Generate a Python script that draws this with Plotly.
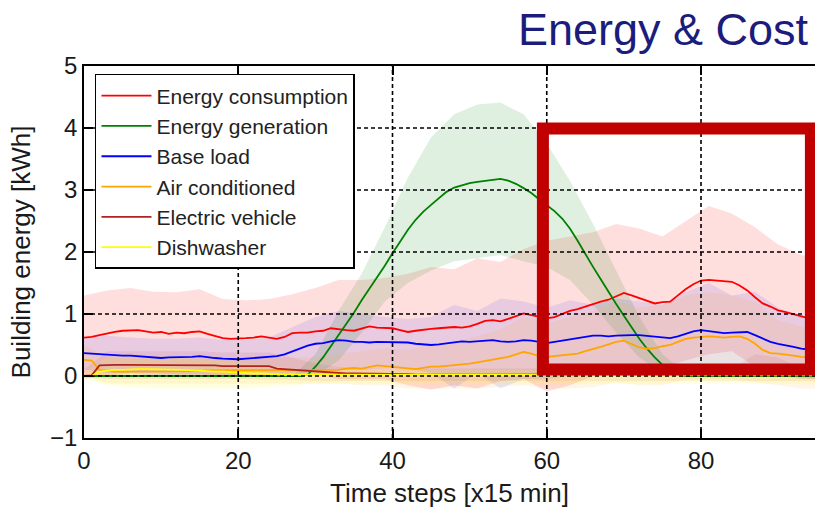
import plotly.graph_objects as go

# ---------------- data ----------------
steps = list(range(96))

consumption = [
    .62, .63, .66, .69, .71, .73, .74, .74, .72, .70,
    .71, .68, .70, .69, .71, .72, .68, .64, .61, .60,
    .60, .61, .62, .64, .62, .60, .63, .69, .70, .70,
    .72, .73, .77, .75, .74, .73, .76, .80, .78, .77,
    .77, .74, .71, .73, .75, .76, .77, .78, .79, .78,
    .80, .84, .89, .90, .88, .92, .97, 1.01, .98, .96,
    .93, .95, 1.00, 1.05, 1.08, 1.12, 1.17, 1.20, 1.23, 1.28,
    1.34, 1.30, 1.26, 1.21, 1.17, 1.19, 1.20, 1.30, 1.40, 1.48,
    1.54, 1.55, 1.54, 1.53, 1.52, 1.46, 1.38, 1.27, 1.17, 1.12,
    1.06, 1.03, 1.00, .96, .93, .92]

generation = [
    0, 0, 0, 0, 0, 0, 0, 0, 0, 0,
    0, 0, 0, 0, 0, 0, 0, 0, 0, 0,
    0, 0, 0, 0, 0, 0, 0, 0, 0, .02,
    .15, .30, .48, .65, .82, 1.02, 1.22, 1.40, 1.58, 1.78,
    1.98, 2.18, 2.36, 2.52, 2.65, 2.76, 2.87, 2.97, 3.04, 3.08,
    3.11, 3.13, 3.15, 3.17, 3.18, 3.15, 3.10, 3.03, 2.95, 2.85,
    2.76, 2.66, 2.54, 2.38, 2.18, 1.96, 1.76, 1.56, 1.35, 1.16,
    .97, .78, .60, .44, .30, .18, .08, .02, 0, 0,
    0, 0, 0, 0, 0, 0, 0, 0, 0, 0,
    0, 0, 0, 0, 0, 0]

base_load = [
    .37, .36, .35, .34, .34, .33, .33, .32, .31, .30,
    .29, .30, .30, .31, .31, .32, .30, .29, .28, .27,
    .27, .28, .29, .30, .31, .32, .35, .40, .45, .49,
    .52, .53, .56, .58, .57, .55, .55, .54, .55, .55,
    .54, .55, .54, .52, .51, .50, .51, .53, .55, .56,
    .55, .56, .57, .58, .56, .55, .56, .58, .57, .55,
    .53, .55, .57, .59, .60, .62, .65, .65, .64, .65,
    .66, .66, .66, .65, .63, .62, .61, .64, .68, .72,
    .74, .72, .70, .69, .70, .70, .71, .66, .60, .55,
    .52, .50, .47, .44, .42, .41]

air_conditioned = [
    .26, .25, .10, .08, .07, .07, .07, .07, .07, .07,
    .08, .08, .08, .08, .08, .08, .09, .09, .09, .09,
    .10, .10, .10, .10, .10, .10, .09, .09, .09, .10,
    .10, .10, .09, .10, .12, .13, .12, .15, .17, .16,
    .15, .14, .12, .11, .13, .15, .15, .16, .17, .18,
    .20, .22, .24, .26, .28, .31, .35, .39, .36, .32,
    .31, .32, .34, .35, .36, .40, .43, .47, .51, .55,
    .57, .52, .46, .44, .45, .48, .50, .55, .60, .62,
    .63, .64, .63, .62, .63, .64, .60, .52, .42, .37,
    .36, .35, .33, .31, .30, .29]

electric_vehicle = [
    .00, .01, .17, .18, .18, .18, .18, .17, .17, .17,
    .18, .18, .17, .17, .17, .18, .17, .17, .16, .16,
    .16, .17, .17, .17, .16, .12, .11, .10, .09, .08,
    .07, .06, .05, .05, .04, .04, .04, .03, .03, .03,
    .03, .03, .03, .02, .02, .02, .02, .02, .02, .02,
    .02, .02, .02, .02, .02, .02, .02, .02, .02, .02,
    .02, .02, .02, .02, .02, .02, .02, .02, .02, .02,
    .02, .02, .02, .02, .02, .02, .02, .02, .02, .02,
    .02, .02, .02, .02, .02, .03, .05, .09, .13, .14,
    .12, .07, .04, .03, .02, .02]

dishwasher = [
    .00, .00, .07, .09, .10, .10, .11, .11, .11, .11,
    .11, .10, .10, .10, .09, .08, .08, .07, .07, .06,
    .05, .05, .04, .04, .03, .03, .02, .02, .02, .01,
    .01, .01, .01, .01, .01, .01, .01, .01, .01, .01,
    .01, .01, .01, .01, .01, .01, .01, .01, .01, .01,
    .01, .01, .01, .01, .01, .01, .01, .01, .01, .01,
    .01, .01, .01, .01, .01, .01, .01, .01, .01, .01,
    .01, .01, .01, .01, .01, .01, .01, .01, .01, .01,
    .01, .01, .01, .01, .01, .01, .01, .01, .01, .01,
    .01, .01, .01, .01, .01, .01]

# spread bands, read every third time step
band_steps = [0, 3, 6, 9, 12, 15, 18, 21, 24, 27, 30, 33, 36, 39, 42, 45, 48,
              51, 54, 57, 60, 63, 66, 69, 72, 75, 78, 81, 84, 87, 90, 93, 95]

consumption_hi = [1.30, 1.38, 1.42, 1.36, 1.35, 1.40, 1.24, 1.22, 1.24, 1.32, 1.42,
                  1.55, 1.55, 1.58, 1.65, 1.76, 1.72, 1.90, 1.84, 2.05, 2.18, 2.25,
                  2.32, 2.45, 2.38, 2.25, 2.50, 2.74, 2.62, 2.40, 2.12, 1.95, 1.90]
consumption_lo = [-0.05, 0.0, 0.05, 0.05, 0.03, 0.03, 0.0, 0.0, 0.0, 0.05, 0.02,
                  -0.05, -0.05, -0.05, -0.15, -0.22, -0.15, -0.20, -0.08, -0.05, -0.25,
                  -0.15, 0.0, 0.10, 0.14, 0.13, 0.25, 0.35, 0.40, 0.15, 0.02, -0.03, -0.05]

generation_hi = [0, 0, 0, 0, 0, 0, 0, 0, 0, 0, 0.35,
                 1.05, 1.65, 2.40, 3.20, 3.85, 4.22, 4.38, 4.41, 4.22, 3.75,
                 3.15, 2.45, 1.70, 0.95, 0.35, 0.05, 0, 0, 0, 0, 0, 0]
generation_lo = [0, 0, 0, 0, 0, 0, 0, 0, 0, 0, 0.0,
                 0.25, 0.70, 1.20, 1.50, 1.70, 1.85, 1.90, 1.95, 1.85, 1.76,
                 1.55, 1.15, 0.70, 0.30, 0.05, 0, 0, 0, 0, 0, 0, 0]

base_load_hi = [0.62, 0.65, 0.62, 0.60, 0.60, 0.62, 0.58, 0.58, 0.62, 0.78, 0.95,
                1.05, 1.00, 0.95, 0.92, 0.95, 1.15, 1.05, 1.25, 1.20, 1.10,
                1.22, 1.15, 1.25, 1.20, 1.15, 1.35, 1.50, 1.30, 1.36, 1.10, 0.95, 0.90]
base_load_lo = [0.10, 0.05, 0.05, 0.0, 0.0, 0.0, 0.0, 0.0, 0.0, 0.0, 0.10,
                0.10, 0.10, 0.12, 0.12, 0.05, -0.20, 0.05, -0.20, -0.05, -0.05,
                0.0, 0.15, 0.05, 0.12, 0.10, 0.0, -0.02, 0.10, 0.05, 0.0, -0.05, -0.05]

air_conditioned_hi = [0.50, 0.30, 0.28, 0.28, 0.28, 0.28, 0.30, 0.30, 0.30, 0.30, 0.30,
                      0.35, 0.40, 0.45, 0.42, 0.50, 0.55, 0.65, 0.75, 0.95, 0.85,
                      0.95, 1.05, 1.20, 1.10, 1.15, 1.30, 1.35, 1.30, 1.20, 0.90, 0.80, 0.75]
air_conditioned_lo = [0.0, -0.12, -0.12, -0.12, -0.12, -0.12, -0.12, -0.12, -0.12, -0.12, -0.12,
                      -0.12, -0.15, -0.15, -0.20, -0.20, -0.20, -0.20, -0.18, -0.15, -0.20,
                      -0.20, -0.18, -0.10, -0.15, -0.15, -0.05, -0.05, -0.05, -0.10, -0.15, -0.20, -0.20]

electric_vehicle_hi = [0.10, 0.40, 0.40, 0.40, 0.40, 0.40, 0.38, 0.38, 0.38, 0.30, 0.20,
                       0.15, 0.12, 0.12, 0.12, 0.12, 0.12, 0.12, 0.12, 0.12, 0.12,
                       0.12, 0.12, 0.12, 0.12, 0.12, 0.12, 0.12, 0.12, 0.35, 0.30, 0.12, 0.10]
electric_vehicle_lo = [-0.02, -0.05, -0.05, -0.05, -0.05, -0.05, -0.05, -0.05, -0.05, -0.06, -0.08,
                       -0.08, -0.08, -0.08, -0.08, -0.08, -0.08, -0.08, -0.08, -0.08, -0.08,
                       -0.08, -0.08, -0.08, -0.08, -0.08, -0.08, -0.08, -0.08, -0.08, -0.08, -0.08, -0.08]

dishwasher_hi = [0.05, 0.30, 0.32, 0.32, 0.32, 0.28, 0.25, 0.20, 0.18, 0.12, 0.10,
                 0.10, 0.10, 0.10, 0.10, 0.10, 0.10, 0.10, 0.10, 0.10, 0.10,
                 0.10, 0.10, 0.10, 0.10, 0.10, 0.10, 0.10, 0.10, 0.10, 0.10, 0.10, 0.10]
dishwasher_lo = [-0.05, -0.15, -0.18, -0.20, -0.20, -0.20, -0.20, -0.20, -0.18, -0.15, -0.12,
                 -0.12, -0.12, -0.12, -0.12, -0.12, -0.12, -0.12, -0.12, -0.12, -0.12,
                 -0.12, -0.12, -0.12, -0.12, -0.12, -0.12, -0.12, -0.12, -0.12, -0.12, -0.12, -0.12]

x_ticks = [0, 20, 40, 60, 80]
y_ticks = [-1, 0, 1, 2, 3, 4, 5]
grid_x = [20, 40, 60, 80]
grid_y = [0, 1, 2, 3, 4]

# highlight box (slide overlay) in data units
highlight = dict(x0=59.5, x1=94.25, y0=0.105, y1=3.99)

# ---------------- figure ----------------
series = [
    ("Energy consumption", consumption, consumption_hi, consumption_lo, "#ff0000", "rgba(255,0,0,0.13)"),
    ("Energy generation", generation, generation_hi, generation_lo, "#008000", "rgba(0,128,0,0.12)"),
    ("Base load", base_load, base_load_hi, base_load_lo, "#0000ff", "rgba(0,0,255,0.09)"),
    ("Air conditioned", air_conditioned, air_conditioned_hi, air_conditioned_lo, "#ffa500", "rgba(255,165,0,0.10)"),
    ("Electric vehicle", electric_vehicle, electric_vehicle_hi, electric_vehicle_lo, "#b22222", "rgba(165,42,42,0.08)"),
    ("Dishwasher", dishwasher, dishwasher_hi, dishwasher_lo, "#ffff00", "rgba(255,255,0,0.12)"),
]

fig = go.Figure()

for name, mean, hi, lo, col, fcol in series:
    fig.add_trace(go.Scatter(
        x=band_steps + band_steps[::-1],
        y=hi + lo[::-1],
        fill="toself", fillcolor=fcol,
        line=dict(width=0), mode="lines",
        hoverinfo="skip", showlegend=False))

for name, mean, hi, lo, col, fcol in series:
    fig.add_trace(go.Scatter(
        x=steps, y=mean, name=name, mode="lines",
        line=dict(color=col, width=1.8)))

shapes = []
for gx in grid_x:
    shapes.append(dict(type="line", xref="x", yref="paper", x0=gx, x1=gx, y0=0, y1=1,
                       layer="above", line=dict(color="black", width=1.6, dash="4px,3px")))
for gy in grid_y:
    shapes.append(dict(type="line", xref="paper", yref="y", x0=0, x1=1, y0=gy, y1=gy,
                       layer="above", line=dict(color="black", width=1.6, dash="4px,3px")))
shapes.append(dict(type="rect", xref="x", yref="y", layer="above",
                   fillcolor="rgba(0,0,0,0)",
                   line=dict(color="#c00000", width=12), **highlight))

FONT = "Liberation Sans, Arial, Helvetica, sans-serif"

fig.update_layout(
    width=815, height=508,
    margin=dict(l=84, r=0, t=66, b=70, autoexpand=False),
    paper_bgcolor="white", plot_bgcolor="white",
    font=dict(family=FONT, color="#1a1a1a"),
    shapes=shapes,
    showlegend=True,
    legend=dict(
        x=0.015, y=0.9785, xanchor="left", yanchor="top",
        bgcolor="white", bordercolor="black", borderwidth=1.5,
        font=dict(size=21, family=FONT, color="#222222"),
        itemwidth=50, tracegroupgap=0,
    ),
    annotations=[dict(
        text="Energy & Cost", xref="paper", yref="paper",
        x=0.9945, y=1.099, xanchor="right", yanchor="middle",
        showarrow=False, font=dict(size=45, family=FONT, color="#1c1c7c"))],
)

fig.update_xaxes(
    range=[0, 94.78], tickvals=x_ticks, showgrid=False, zeroline=False,
    showline=True, linecolor="black", linewidth=1.6, mirror="ticks",
    ticks="inside", ticklen=9, tickwidth=1.5, tickcolor="black",
    tickfont=dict(size=24, family=FONT, color="#1a1a1a"),
    title=dict(text="Time steps [x15 min]", font=dict(size=26, family=FONT, color="#1a1a1a"), standoff=12),
    automargin=False,
)
fig.update_yaxes(
    range=[-1, 5], tickvals=y_ticks, showgrid=False, zeroline=False,
    showline=True, linecolor="black", linewidth=1.6, mirror=False,
    ticks="inside", ticklen=9, tickwidth=1.5, tickcolor="black",
    tickfont=dict(size=24, family=FONT, color="#1a1a1a"),
    title=dict(text="Building energy [kWh]", font=dict(size=26, family=FONT, color="#1a1a1a"), standoff=12),
    automargin=False,
)

fig.write_html(
    "out.html",
    config={"displayModeBar": False},
    post_script="document.body.style.margin='0';document.body.style.overflow='hidden';",
)
